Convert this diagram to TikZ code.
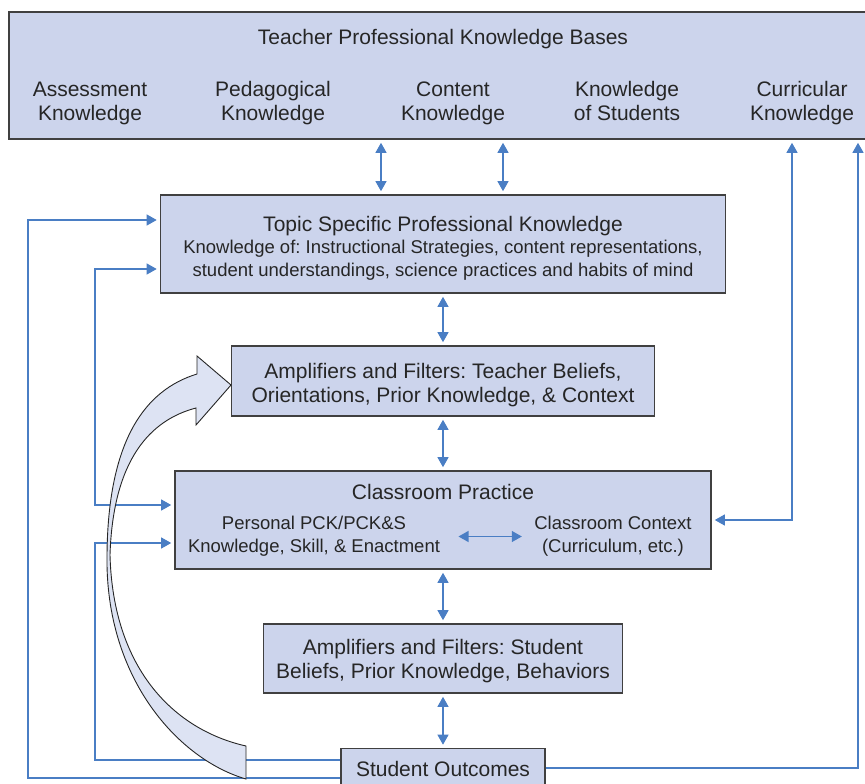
\documentclass[tikz,border=0pt]{standalone}
\usepackage{fontspec}
\setmainfont{Liberation Sans}
\frenchspacing
\usetikzlibrary{arrows.meta}
\definecolor{boxfill}{RGB}{204,212,236}
\definecolor{boxline}{RGB}{64,64,64}
\definecolor{linkblue}{RGB}{74,126,196}
\definecolor{curvefill}{RGB}{221,227,243}
\begin{document}
\begin{tikzpicture}[x=1pt, y=-1pt, >={Triangle[length=10pt,width=11pt]},
  box/.style={draw=boxline, line width=1.6pt, fill=boxfill},
  lbl/.style={text=black!85, align=center, font=\fontsize{21}{24}\selectfont},
  small/.style={text=black!85, align=center, font=\fontsize{18.5}{23}\selectfont},
  link/.style={draw=linkblue, line width=1.2pt, shorten >=3pt},
  both/.style={link, <->, shorten <=3pt}]
\useasboundingbox (0,0) rectangle (865,784);

% Knowledge bases
\node[box, minimum width=858pt, minimum height=127pt] (kbases) at (438,75.5) {};
\node[lbl] (kbtitle) at (443,39) {Teacher Professional Knowledge Bases};
\node[lbl] (assess) at (90,103) {Assessment\\Knowledge};
\node[lbl] (pedag) at (273,103) {Pedagogical\\Knowledge};
\node[lbl] (content) at (453,103) {Content\\Knowledge};
\node[lbl] (students) at (627,103) {Knowledge\\of Students\vphantom{g}};
\node[lbl] (curric) at (802,103) {Curricular\\Knowledge};

% Topic specific professional knowledge
\node[box, minimum width=565pt, minimum height=98pt] (tspk) at (443,244) {};
\node[lbl] (tspktitle) at (443,226) {Topic Specific Professional Knowledge};
\node[small] (tspksub) at (443,260.5) {Knowledge of: Instructional Strategies, content representations,\\student understandings, science practices and habits of mind};

% Teacher amplifiers and filters
\node[box, minimum width=423pt, minimum height=70pt] (tfilter) at (443,381) {};
\node[lbl] (tfiltertext) at (443,385) {Amplifiers and Filters: Teacher Beliefs,\\Orientations, Prior Knowledge, \& Context};

% Classroom practice
\node[box, minimum width=536pt, minimum height=98pt] (cp) at (443,520) {};
\node[lbl] (cptitle) at (443,492) {Classroom Practice};
\node[small] (pck) at (314,536.5) {Personal PCK/PCK\&S\\Knowledge, Skill, \& Enactment};
\node[small] (ctx) at (613,536.5) {Classroom Context\\(Curriculum, etc.)};

% Student amplifiers and filters
\node[box, minimum width=359pt, minimum height=69pt] (sfilter) at (443,658.5) {};
\node[lbl] (sfiltertext) at (443,661.5) {Amplifiers and Filters: Student\\Beliefs, Prior Knowledge, Behaviors};

% Student outcomes
\node[box, lbl, minimum width=204pt, minimum height=40pt] (so) at (443,768.5) {Student Outcomes};

% Main column
\draw[both] (kbases.south -| 381,0) -- (tspk.north -| 381,0);
\draw[both] (kbases.south -| 503,0) -- (tspk.north -| 503,0);
\draw[both] (tspk.south) -- (tfilter.north);
\draw[both] (tfilter.south) -- (cp.north);
\draw[both] (cp.south) -- (sfilter.north);
\draw[both] (sfilter.south) -- (so.north);
\draw[both, shorten <=15pt, shorten >=9pt] (pck.east) -- (ctx.west);

% Feedback on the left
\draw[link, ->] (so.west |- 0,778) -- (28,778) -- (28,220) -- (tspk.west |- 0,220);
\draw[both] (tspk.west |- 0,269) -- (95,269) -- (95,505) -- (cp.west |- 0,505);
\draw[link, ->] (so.west |- 0,760) -- (95,760) -- (95,543) -- (cp.west |- 0,543);

% Feedback on the right
\draw[link, ->] (so.east |- 0,768) -- (858,768) -- (kbases.south -| 858,0);
\draw[both] (cp.east |- 0,520) -- (792,520) -- (kbases.south -| 792,0);

% Curved arrow
\draw[line width=0.9pt, draw=black!85, fill=curvefill] (231,385) -- (197,356) -- (197,374)
  .. controls (145,390) and (108,440) .. (107,555)
  .. controls (105,680) and (180,760) .. (246,779) -- (246,746)
  .. controls (175,730) and (113,670) .. (110,555)
  .. controls (113,460) and (150,420) .. (196,408) -- (196,425) -- cycle;
\end{tikzpicture}
\end{document}
